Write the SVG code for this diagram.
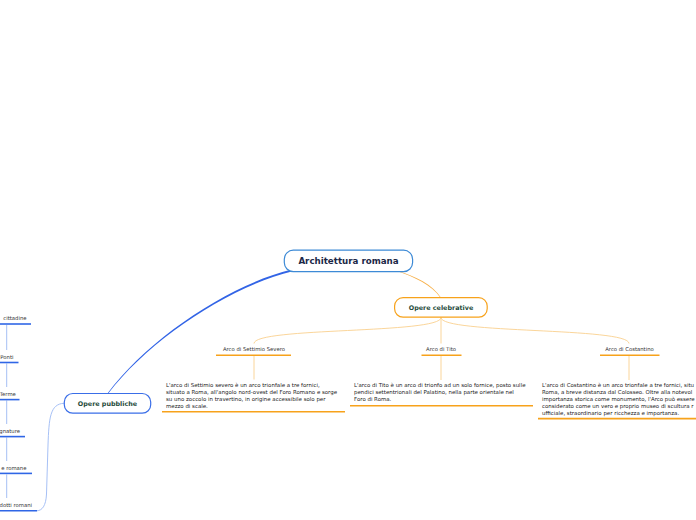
<svg xmlns="http://www.w3.org/2000/svg" width="696" height="520" viewBox="0 0 696 520">
<style>
.node rect{fill:#fff;stroke-width:1.2}
.main{stroke:#3d8ad6}
.cel{stroke:#f7a21b}
.pub{stroke:#3a6ee8}
.t1{font-family:"DejaVu Sans",Verdana,sans-serif;font-weight:bold;font-size:8.7px;fill:#1b2847;text-anchor:middle}
.t2{font-family:"DejaVu Sans",Verdana,sans-serif;font-weight:bold;font-size:6.4px;fill:#1e4a3a;text-anchor:middle}
.t3{font-family:"DejaVu Sans",Verdana,sans-serif;font-size:5.3px;fill:#333;text-anchor:middle}
.tl{font-family:"DejaVu Sans",Verdana,sans-serif;font-size:5.3px;fill:#333;text-anchor:end}
.p{font-family:"DejaVu Sans",Verdana,sans-serif;font-size:5.45px;fill:#222}
.uo{stroke:#f7a21b;stroke-width:1.6;fill:none}
.ub{stroke:#2f66e6;stroke-width:1.6;fill:none}
.co{stroke:#f9d08e;stroke-width:0.9;fill:none}
.cb{stroke:#9cb9f4;stroke-width:0.9;fill:none}
</style>
<g id="connectors">
<path d="M291.5,269.6 C228,285 148,339 107.6,393.3 L108.4,393.3 C149,340 229,286.5 292.8,271.2 Z" fill="#3264e6"/>
<path d="M396.5,270.8 C414,277 432,285 440.2,297.5 L440.9,297.5 C433,284.5 415,276 397.8,270.9 Z" fill="#f7b04a"/>
<path class="co" d="M441,317.5 C441,334 254,327 254,343.5"/>
<path class="co" d="M441,317.5 L441,343.5"/>
<path class="co" d="M441,317.5 C441,334 629,327 629,343.5"/>
<path class="co" d="M254,356 L254,379.5"/>
<path class="co" d="M441,356 L441,380"/>
<path class="co" d="M629,356 L629,380"/>
<path class="cb" d="M64,403.3 C50,404 49,418 48,445 L46.5,494 C46,506 42,510.5 37,510.8"/>
<path class="cb" d="M6.7,325 L6.7,350"/>
<path class="cb" d="M6.7,363.5 L6.7,387"/>
<path class="cb" d="M6.7,400.5 L6.7,424"/>
<path class="cb" d="M6.7,437.5 L6.7,461"/>
<path class="cb" d="M6.7,474.5 L6.7,498"/>
</g>
<g id="n-root" class="node">
<rect class="main" x="284.3" y="250.2" width="128.3" height="21.4" rx="9"/>
<text class="t1" x="348.5" y="264">Architettura romana</text>
</g>
<g id="n-celebrative" class="node">
<rect class="cel" x="394.6" y="297.6" width="92.6" height="19.6" rx="8.5"/>
<text class="t2" x="441" y="309.6">Opere celebrative</text>
</g>
<g id="n-pubbliche" class="node">
<rect class="pub" x="64.3" y="393.5" width="86.4" height="19.7" rx="8.5"/>
<text class="t2" x="107.5" y="405.6">Opere pubbliche</text>
</g>
<g id="n-settimio">
<text class="t3" x="254" y="351.2">Arco di Settimio Severo</text>
<path class="uo" d="M216,355.3 L291,355.3"/>
</g>
<g id="n-settimio-desc">
<text class="p" x="166" y="387">L'arco di Settimio severo è un arco trionfale a tre fornici,</text>
<text class="p" x="166" y="394">situato a Roma, all'angolo nord-ovest del Foro Romano e sorge</text>
<text class="p" x="166" y="401">su uno zoccolo in travertino, in origine accessibile solo per</text>
<text class="p" x="166" y="408">mezzo di scale.</text>
<path class="uo" d="M162,411.8 L345,411.8"/>
</g>
<g id="n-tito">
<text class="t3" x="441" y="351.2">Arco di Tito</text>
<path class="uo" d="M421.5,355.3 L461.5,355.3"/>
</g>
<g id="n-tito-desc">
<text class="p" x="354" y="387">L'arco di Tito è un arco di trionfo ad un solo fornice, posto sulle</text>
<text class="p" x="354" y="394">pendici settentrionali del Palatino, nella parte orientale nel</text>
<text class="p" x="354" y="401">Foro di Roma.</text>
<path class="uo" d="M350,405.8 L533,405.8"/>
</g>
<g id="n-costantino">
<text class="t3" x="629.5" y="351.2">Arco di Costantino</text>
<path class="uo" d="M600,355.3 L659.5,355.3"/>
</g>
<g id="n-costantino-desc">
<text class="p" x="542" y="387">L'arco di Costantino è un arco trionfale a tre fornici, situ</text>
<text class="p" x="542" y="394">Roma, a breve distanza dal Colosseo. Oltre alla notevol</text>
<text class="p" x="542" y="401">importanza storica come monumento, l'Arco può essere</text>
<text class="p" x="542" y="408">considerato come un vero e proprio museo di scultura r</text>
<text class="p" x="542" y="415">ufficiale, straordinario per ricchezza e importanza.</text>
<path class="uo" d="M538,418.6 L696,418.6"/>
</g>
<g id="n-mura">
<text class="tl" x="26.5" y="320">cittadine</text>
<path class="ub" d="M0,324 L31,324"/>
</g>
<g id="n-ponti">
<text class="tl" x="13.5" y="358.5">Ponti</text>
<path class="ub" d="M0,362.5 L18.5,362.5"/>
</g>
<g id="n-terme">
<text class="tl" x="15.8" y="395.5">Terme</text>
<path class="ub" d="M0,399.6 L19.5,399.6"/>
</g>
<g id="n-fognature">
<text class="tl" x="20" y="432.5">gnature</text>
<path class="ub" d="M0,436.6 L25,436.6"/>
</g>
<g id="n-strade">
<text class="tl" x="26.5" y="469.5">e romane</text>
<path class="ub" d="M0,473.4 L32,473.4"/>
</g>
<g id="n-acquedotti">
<text class="tl" x="32" y="506.5">dotti romani</text>
<path class="ub" d="M0,510.8 L37,510.8"/>
</g>
</svg>
